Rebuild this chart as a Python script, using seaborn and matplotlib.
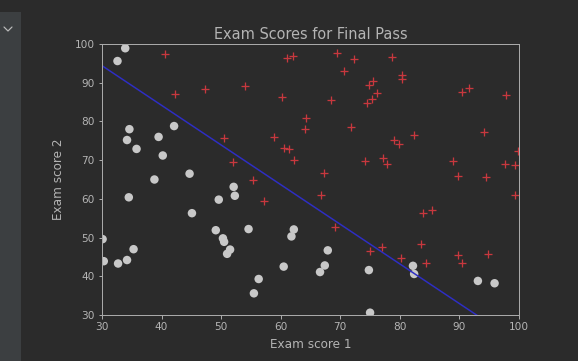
import matplotlib
matplotlib.use("Agg")
import matplotlib.pyplot as plt
import seaborn as sns
from matplotlib.lines import Line2D
from matplotlib.patches import Rectangle


# Data: exam scores, split by admission outcome

passed_exam1 = [60.2, 79.0, 61.1, 75.0, 76.1, 84.4, 82.3, 69.4, 54.0, 69.1,
                70.7, 77.0, 89.7, 77.9, 62.3, 80.2, 61.4, 85.4, 52.0, 64.2,
                83.9, 94.4, 77.2, 97.8, 62.1, 91.6, 79.9, 99.3, 90.5, 97.6,
                74.2, 71.8, 75.4, 40.5, 80.3, 66.7, 64.0, 72.3, 60.5, 58.8,
                99.8, 47.3, 50.5, 88.9, 94.8, 67.3, 57.2, 80.4, 68.5, 75.5,
                78.6, 94.1, 90.4, 74.5, 89.8, 83.5, 42.3, 99.3, 55.3, 74.8]
passed_exam2 = [86.3, 75.3, 96.5, 46.6, 87.4, 43.5, 76.5, 97.7, 89.2, 52.7,
                92.9, 47.6, 65.8, 69.0, 70.0, 44.8, 72.8, 57.1, 69.4, 80.9,
                56.3, 65.6, 70.5, 86.7, 96.8, 88.7, 74.2, 61.0, 43.4, 68.9,
                69.8, 78.5, 85.8, 97.5, 92.1, 61.0, 78.0, 96.2, 73.1, 75.9,
                72.4, 88.5, 75.8, 69.8, 45.7, 66.6, 59.5, 91.0, 85.6, 90.4,
                96.6, 77.2, 87.5, 84.8, 45.4, 48.4, 87.1, 68.8, 64.9, 89.5]

failed_exam1 = [34.6, 30.3, 35.8, 45.1, 95.9, 75.0, 39.5, 67.9, 67.4, 50.5,
                34.2, 93.1, 61.8, 38.8, 52.1, 40.2, 54.6, 33.9, 74.8, 34.2,
                51.5, 82.4, 51.0, 62.2, 34.5, 50.3, 49.6, 32.6, 35.3, 56.3,
                30.1, 44.7, 66.6, 49.1, 32.7, 60.5, 82.2, 42.1, 52.3, 55.5]
failed_exam2 = [78.0, 43.9, 72.9, 56.3, 38.2, 30.6, 76.0, 46.7, 42.8, 48.9,
                44.2, 38.8, 50.3, 65.0, 63.1, 71.2, 52.2, 98.9, 41.6, 75.2,
                46.9, 40.6, 45.8, 52.1, 60.4, 49.8, 59.8, 95.6, 47.0, 39.3,
                49.6, 66.5, 41.1, 51.9, 43.3, 42.5, 42.7, 78.8, 60.8, 35.6]

# decision boundary end points
boundary_x = [30.0, 100.0]
boundary_y = [94.4, 22.7]

ticks = [30, 40, 50, 60, 70, 80, 90, 100]


# Style

BG = "#2b2b2b"
FG = "#b4b4b4"
SPINE = "#a9a9a9"
RED = "#c8383e"

sns.set_style("dark")
plt.rcParams["font.family"] = ["DejaVu Sans"]
plt.rcParams["font.size"] = 10.5

fig = plt.figure(figsize=(578 / 72, 361 / 72), dpi=72, facecolor=BG)
ax = fig.add_axes([102 / 578, 1 - 315 / 361, 417 / 578, 271 / 361])
ax.set_facecolor(BG)

# notebook side strip with collapse chevron
fig.patches.append(Rectangle((0, 0), 21 / 578, 1 - 12 / 361,
                             transform=fig.transFigure,
                             facecolor="#3c3f41", edgecolor="none"))
fig.lines.append(Line2D([4 / 578, 8 / 578, 12 / 578],
                        [1 - 27 / 361, 1 - 31 / 361, 1 - 27 / 361],
                        transform=fig.transFigure, color="#bbbbbb",
                        linewidth=1.2))


# Plot

sns.lineplot(x=boundary_x, y=boundary_y, color="#2e2ec4",
             linewidth=1.5, ax=ax)
sns.scatterplot(x=failed_exam1, y=failed_exam2, marker="o",
                color="#c8c8c8", edgecolor="none", s=72, ax=ax)
# thicker strokes so the thin pluses keep their red
ax.plot(passed_exam1, passed_exam2, "+", color=RED,
        markersize=8, markeredgewidth=1.3)

ax.set_xlim(30, 100)
ax.set_ylim(30, 100)
ax.set_xticks(ticks)
ax.set_yticks(ticks)

ax.set_title("Exam Scores for Final Pass", color=FG, fontsize=14.5, pad=5)
ax.set_xlabel("Exam score 1", color=FG, fontsize=12, labelpad=6)
ax.set_ylabel("Exam score 2", color=FG, fontsize=12, labelpad=10)

ax.tick_params(colors=SPINE, labelcolor=FG, length=3.5, width=1,
               labelsize=10.5, bottom=True, left=True)
for side in ax.spines.values():
    side.set_visible(True)
    side.set_color(SPINE)
    side.set_linewidth(1)
ax.grid(False)

fig.savefig("out.png", dpi=72, facecolor=BG)
